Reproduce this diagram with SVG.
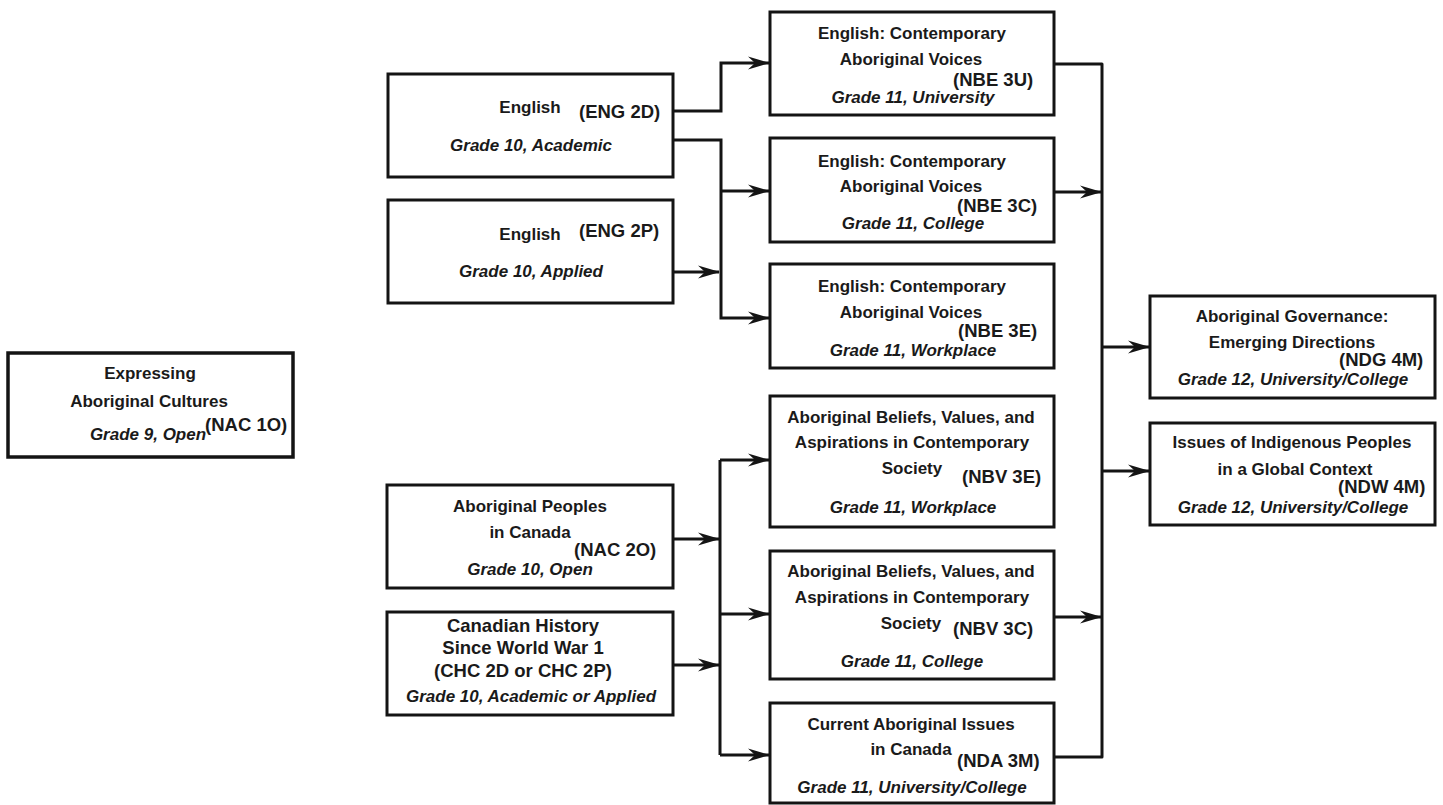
<svg xmlns="http://www.w3.org/2000/svg" width="1443" height="805" viewBox="0 0 1443 805">
  <style>
    .box { fill: #ffffff; stroke: #141414; stroke-width: 3; }
    .t { font-family: "Liberation Sans", Arial, sans-serif; font-weight: bold; font-size: 17px; fill: #1a1a1a; text-anchor: middle; }
    .g { font-family: "Liberation Sans", Arial, sans-serif; font-weight: bold; font-style: italic; font-size: 17px; fill: #1a1a1a; text-anchor: middle; }
    .c { font-family: "Liberation Sans", Arial, sans-serif; font-weight: bold; font-size: 18.5px; fill: #1a1a1a; }
    .cm { font-family: "Liberation Sans", Arial, sans-serif; font-weight: bold; font-size: 18.5px; fill: #1a1a1a; text-anchor: middle; }
    .wire { fill: none; stroke: #141414; stroke-width: 3; stroke-linejoin: round; }
    .arr { fill: none; stroke: #141414; stroke-width: 3; marker-end: url(#ah); }
  </style>
  <defs>
    <marker id="ah" viewBox="-22 -7 23 14" refX="0" refY="0" markerWidth="23" markerHeight="14" markerUnits="userSpaceOnUse" orient="auto">
      <path d="M1,0 L-21,-6.5 L-14,0 L-21,6.5 Z" fill="#141414"/>
    </marker>
  </defs>
  <rect width="1443" height="805" fill="#ffffff"/>

  <!-- connectors -->
  <g id="connectors">
    <!-- English Grade 10 to Grade 11 English -->
    <path class="arr" d="M673,111 H721 V63 H769"/>
    <path class="arr" d="M673,140 H721 V318 H769"/>
    <path class="arr" d="M721,191 H769"/>
    <path class="arr" d="M673,272 H719"/>
    <!-- Aboriginal Peoples / Canadian History to Grade 11 -->
    <path class="wire" d="M720,460 V755"/>
    <path class="arr" d="M720,460 H769"/>
    <path class="arr" d="M720,614 H769"/>
    <path class="arr" d="M720,755 H769"/>
    <path class="arr" d="M673,539 H719"/>
    <path class="arr" d="M673,665 H719"/>
    <!-- Grade 11 to Grade 12 -->
    <path class="wire" d="M1053,64 H1102 V757 H1053"/>
    <path class="arr" d="M1053,192 H1101"/>
    <path class="arr" d="M1053,617 H1101"/>
    <path class="arr" d="M1102,347 H1149"/>
    <path class="arr" d="M1102,471 H1149"/>
  </g>

  <!-- Grade 9 -->
  <g id="nac1o">
    <rect class="box" x="8" y="353" width="285" height="104" style="stroke-width:3.5"/>
    <text class="t" x="150" y="379">Expressing</text>
    <text class="t" x="149" y="407">Aboriginal Cultures</text>
    <text class="g" x="148" y="440">Grade 9, Open</text>
    <text class="c" x="205" y="431">(NAC 1O)</text>
  </g>

  <!-- Grade 10 -->
  <g id="eng2d">
    <rect class="box" x="388" y="74" width="285" height="103"/>
    <text class="t" x="530" y="113">English</text>
    <text class="c" x="579" y="118">(ENG 2D)</text>
    <text class="g" x="531" y="151">Grade 10, Academic</text>
  </g>
  <g id="eng2p">
    <rect class="box" x="388" y="200" width="285" height="103"/>
    <text class="t" x="530" y="240">English</text>
    <text class="c" x="579" y="237">(ENG 2P)</text>
    <text class="g" x="531" y="277">Grade 10, Applied</text>
  </g>
  <g id="nac2o">
    <rect class="box" x="387" y="485" width="286" height="103"/>
    <text class="t" x="530" y="512">Aboriginal Peoples</text>
    <text class="t" x="530" y="538">in Canada</text>
    <text class="c" x="574" y="556">(NAC 2O)</text>
    <text class="g" x="530" y="575">Grade 10, Open</text>
  </g>
  <g id="chc">
    <rect class="box" x="387" y="612" width="286" height="103"/>
    <text class="cm" x="523" y="632">Canadian History</text>
    <text class="cm" x="523" y="654">Since World War 1</text>
    <text class="cm" x="523" y="677">(CHC 2D or CHC 2P)</text>
    <text class="g" x="531" y="702">Grade 10, Academic or Applied</text>
  </g>

  <!-- Grade 11 -->
  <g id="nbe3u">
    <rect class="box" x="770" y="12" width="284" height="103"/>
    <text class="t" x="912" y="39">English: Contemporary</text>
    <text class="t" x="911" y="65">Aboriginal Voices</text>
    <text class="c" x="953" y="86">(NBE 3U)</text>
    <text class="g" x="913" y="103">Grade 11, University</text>
  </g>
  <g id="nbe3c">
    <rect class="box" x="770" y="138" width="284" height="104"/>
    <text class="t" x="912" y="167">English: Contemporary</text>
    <text class="t" x="911" y="192">Aboriginal Voices</text>
    <text class="c" x="957" y="212">(NBE 3C)</text>
    <text class="g" x="913" y="229">Grade 11, College</text>
  </g>
  <g id="nbe3e">
    <rect class="box" x="770" y="264" width="284" height="104"/>
    <text class="t" x="912" y="292">English: Contemporary</text>
    <text class="t" x="911" y="318">Aboriginal Voices</text>
    <text class="c" x="958" y="337">(NBE 3E)</text>
    <text class="g" x="913" y="356">Grade 11, Workplace</text>
  </g>
  <g id="nbv3e">
    <rect class="box" x="770" y="396" width="284" height="131"/>
    <text class="t" x="911" y="423">Aboriginal Beliefs, Values, and</text>
    <text class="t" x="912" y="448">Aspirations in Contemporary</text>
    <text class="t" x="912" y="474">Society</text>
    <text class="c" x="962" y="483">(NBV 3E)</text>
    <text class="g" x="913" y="513">Grade 11, Workplace</text>
  </g>
  <g id="nbv3c">
    <rect class="box" x="770" y="551" width="284" height="128"/>
    <text class="t" x="911" y="577">Aboriginal Beliefs, Values, and</text>
    <text class="t" x="912" y="603">Aspirations in Contemporary</text>
    <text class="t" x="911" y="629">Society</text>
    <text class="c" x="953" y="635">(NBV 3C)</text>
    <text class="g" x="912" y="667">Grade 11, College</text>
  </g>
  <g id="nda3m">
    <rect class="box" x="770" y="703" width="284" height="100"/>
    <text class="t" x="911" y="730">Current Aboriginal Issues</text>
    <text class="t" x="911" y="755">in Canada</text>
    <text class="c" x="957" y="767">(NDA 3M)</text>
    <text class="g" x="912" y="793">Grade 11, University/College</text>
  </g>

  <!-- Grade 12 -->
  <g id="ndg4m">
    <rect class="box" x="1150" y="296" width="285" height="102"/>
    <text class="t" x="1292" y="322">Aboriginal Governance:</text>
    <text class="t" x="1292" y="348">Emerging Directions</text>
    <text class="c" x="1339" y="366">(NDG 4M)</text>
    <text class="g" x="1293" y="385">Grade 12, University/College</text>
  </g>
  <g id="ndw4m">
    <rect class="box" x="1150" y="423" width="285" height="102"/>
    <text class="t" x="1292" y="448">Issues of Indigenous Peoples</text>
    <text class="t" x="1295" y="475">in a Global Context</text>
    <text class="c" x="1338" y="493">(NDW 4M)</text>
    <text class="g" x="1293" y="513">Grade 12, University/College</text>
  </g>
</svg>
